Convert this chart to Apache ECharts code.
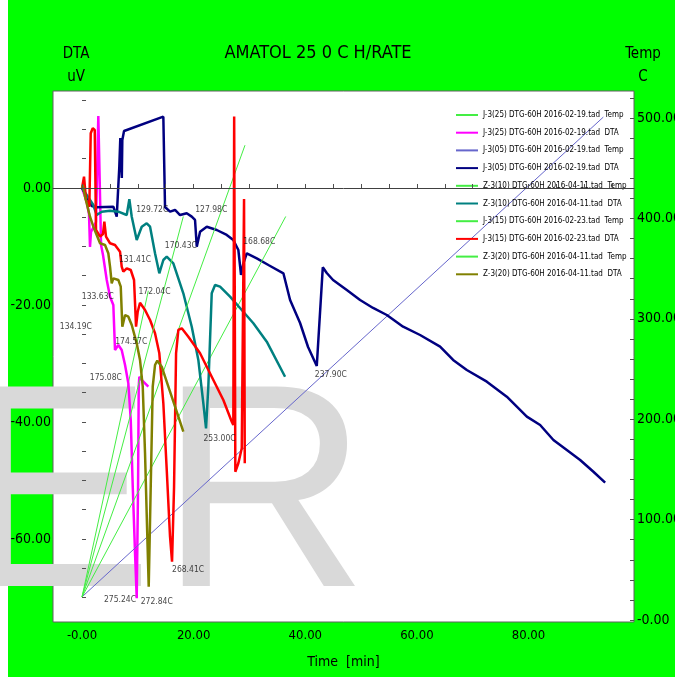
<!DOCTYPE html>
<html>
<head>
<meta charset="utf-8">
<script src="https://cdn.jsdelivr.net/npm/echarts@6/dist/echarts.min.js"></script>
<style>
  html, body { margin: 0; padding: 0; }
  #chart { width: 675px; height: 677px; }
</style>
</head>
<body>
<div id="chart"></div>
<script>
(() => {
  const chart = echarts.init(document.getElementById('chart'));
  const font = "'DejaVu Sans Condensed', 'Liberation Sans', sans-serif";

  // legend / series names
  const seriesNames = [
    'J-3(25) DTG-60H 2016-02-19.tad  Temp',
    'J-3(25) DTG-60H 2016-02-19.tad  DTA',
    'J-3(05) DTG-60H 2016-02-19.tad  Temp',
    'J-3(05) DTG-60H 2016-02-19.tad  DTA',
    'Z-3(10) DTG-60H 2016-04-11.tad  Temp',
    'Z-3(10) DTG-60H 2016-04-11.tad  DTA',
    'J-3(15) DTG-60H 2016-02-23.tad  Temp',
    'J-3(15) DTG-60H 2016-02-23.tad  DTA',
    'Z-3(20) DTG-60H 2016-04-11.tad  Temp',
    'Z-3(20) DTG-60H 2016-04-11.tad  DTA'
  ];
  const seriesColors = ['#44ee44', '#ff00ff', '#6666cc', '#000080', '#44ee44',
    '#008080', '#44ee44', '#ff0000', '#44ee44', '#808000'];

  // temperature lines [time min, temp C]
  const j25Temp = [[0, 23], [11.88, 328]];
  const j05Temp = [[0, 23], [93.4, 501]];
  const z10Temp = [[0, 23], [36.5, 402]];
  const j15Temp = [[0, 23], [29.2, 473]];
  const z20Temp = [[0, 23], [18.15, 402]];

  // DTA curves [time min, uV]
  const j25Dta = [[0, 0], [0.84, -2.34], [1.25, -4.44], [1.43, -10.09], [1.61, -7.52], [2.51, -5.81],
    [2.92, 12.31], [3.23, 12.14], [3.41, -9.74], [3.76, -11.45], [4.43, -15.73], [5.02, -18.58],
    [5.61, -20.0], [5.91, -27.69], [6.51, -26.84], [7.11, -27.69], [7.71, -30.26], [8.3, -33.38],
    [8.73, -39.66], [9.09, -51.06], [9.5, -62.44], [9.8, -70.14], [10.04, -51.06], [10.16, -33.97],
    [10.27, -32.26], [10.99, -33.11], [11.88, -33.97]];

  const j05Dta = [[0, 0], [1.74, -3.08], [2.63, -3.3], [5.61, -3.2], [6.22, -4.9], [6.68, 3.64],
    [6.86, 8.55], [7.08, 8.72], [7.13, 1.71], [7.22, 8.2], [7.53, 9.74], [14.57, 12.19], [14.87, -3.25],
    [15.77, -4.05], [16.67, -3.76], [17.56, -4.62], [18.76, -4.32], [19.66, -4.9], [20.25, -5.47],
    [20.56, -10.03], [21.15, -7.47], [22.35, -6.62], [24.14, -7.18], [25.93, -8.03], [27.11, -8.89],
    [28.01, -10.6], [28.49, -14.87], [28.91, -12.87], [29.52, -11.16], [31.31, -12.02], [33.39, -13.16],
    [36.08, -14.58], [37.28, -19.15], [39.07, -23.08], [40.5, -27.18], [42.06, -30.43], [43.14, -13.56],
    [43.85, -14.53], [44.98, -15.73], [47.44, -17.44], [49.82, -19.15], [52.15, -20.51], [54.61, -21.71],
    [57.53, -23.71], [60.57, -25.13], [64.16, -27.13], [66.49, -29.4], [68.94, -31.11], [72.53, -33.11],
    [76.11, -35.68], [79.7, -39.09], [82.08, -40.51], [84.46, -43.08], [86.86, -44.79], [89.25, -46.5],
    [91.63, -48.5], [93.73, -50.38]];

  const z10Dta = [[0, 0], [2.03, -2.91], [2.63, -4.62], [3.53, -4.05], [5.02, -3.88], [6.51, -4.05],
    [8.01, -4.62], [8.48, -1.93], [8.91, -4.91], [9.8, -8.89], [10.7, -6.62], [11.59, -6.03],
    [12.19, -6.62], [13.08, -11.16], [13.85, -14.58], [14.57, -12.31], [15.18, -11.74], [16.36, -12.87],
    [18.15, -18.0], [19.66, -23.71], [20.84, -29.4], [21.74, -36.8], [22.22, -41.08], [22.63, -33.97],
    [23.24, -18.0], [23.84, -16.58], [24.73, -16.87], [26.52, -18.58], [28.62, -20.85], [30.7, -23.13],
    [33.1, -26.27], [36.38, -32.26]];

  const j15Dta = [[0, 0], [0.36, 1.93], [0.72, -2.05], [1.31, -3.2], [1.56, 9.35], [1.92, 10.21],
    [2.28, 9.91], [2.51, -7.18], [3.23, -8.32], [3.76, -7.86], [4.0, -5.76], [4.3, -8.32], [5.02, -9.45],
    [5.91, -9.74], [6.81, -10.89], [7.11, -13.45], [7.4, -14.31], [8.01, -13.73], [8.73, -14.02],
    [9.32, -15.73], [9.68, -23.71], [9.98, -21.15], [10.39, -19.61], [11.29, -20.85], [12.19, -22.56],
    [13.08, -24.84], [13.85, -28.26], [14.57, -36.8], [15.18, -48.21], [15.77, -59.61], [16.13, -63.88],
    [16.49, -51.06], [16.85, -28.26], [17.26, -24.27], [17.87, -23.98], [19.05, -25.42], [21.15, -28.26],
    [23.24, -32.26], [25.32, -36.24], [26.83, -39.95], [27.11, -40.51], [27.26, 12.2], [27.47, -48.5],
    [28.01, -47.06], [28.62, -44.5], [28.91, -44.5], [29.03, -1.88], [29.16, -47.06]];

  const z20Dta = [[0, 0], [0.15, 0.5], [0.54, -1.49], [1.43, -4.91], [2.03, -6.62], [2.63, -8.03],
    [3.23, -9.45], [4.12, -9.74], [4.71, -11.16], [5.02, -13.45], [5.32, -16.29], [5.61, -15.44],
    [6.51, -15.73], [6.94, -16.87], [7.22, -23.71], [7.71, -21.71], [8.3, -22.0], [8.91, -23.42],
    [9.8, -26.55], [10.39, -29.4], [10.88, -33.97], [11.29, -45.35], [11.7, -59.61], [11.95, -68.15],
    [12.19, -56.75], [12.67, -33.97], [13.08, -30.26], [13.49, -29.52], [14.28, -30.55], [15.47, -33.97],
    [16.67, -37.38], [18.15, -41.66]];

  // peak annotations
  const peakLabels = ['129.72C', '127.98C', '170.43C', '168.68C', '131.41C', '172.04C', '133.63C',
    '134.19C', '174.57C', '175.08C', '237.90C', '253.00C', '268.41C', '275.24C', '272.84C'];
  const peakTimes = [12.58, 23.15, 17.71, 31.75, 9.5, 12.99, 2.83, -1.11, 8.82, 4.27, 44.59, 24.64,
    19.0, 6.81, 13.39];
  const peakValues = [-3.76, -3.76, -9.91, -9.18, -12.19, -17.73, -18.58, -23.71, -26.27, -32.53,
    -31.97, -42.79, -65.3, -70.43, -70.77];

  // axis ticks and labels
  const timeTicks = [0, 5, 10, 15, 20, 25, 30, 35, 40, 45, 50, 55, 60, 65, 70, 75, 80, 85, 90, 95];
  const timeLabels = [0, 20, 40, 60, 80];
  const dtaTicks = [15, 10, 5, 0, -5, -10, -15, -20, -25, -30, -35, -40, -45, -50, -55, -60, -65, -70];
  const dtaLabels = [0, -20, -40, -60];
  const tempTicks = [0, 20, 40, 60, 80, 100, 120, 140, 160, 180, 200, 220, 240, 260, 280, 300,
    320, 340, 360, 380, 400, 420, 440, 460, 480, 500, 520];
  const tempLabels = [0, 100, 200, 300, 400, 500];

  const curves = [j25Temp, j25Dta, j05Temp, j05Dta, z10Temp, z10Dta, j15Temp, j15Dta, z20Temp, z20Dta];

  const series = curves.map((d, i) => {
    const isTemp = i % 2 === 0;
    return {
      name: seriesNames[i],
      type: 'line',
      yAxisIndex: isTemp ? 1 : 0,
      data: d,
      symbol: 'none',
      animation: false,
      lineStyle: { color: seriesColors[i], width: isTemp ? 1 : 2.5 },
      itemStyle: { color: seriesColors[i] },
      z: 3
    };
  });

  // peak temperature texts
  series.push({
    type: 'scatter',
    yAxisIndex: 0,
    symbolSize: 0,
    silent: true,
    animation: false,
    data: peakLabels.map((s, i) => [peakTimes[i], peakValues[i], s]),
    label: {
      show: true,
      position: 'inside',
      formatter: p => p.data[2],
      color: '#111',
      fontSize: 8.5,
      fontFamily: font
    },
    z: 4
  });

  const fmt = (v, neg0) => (v === 0 && neg0 ? '-0.00' : v.toFixed(2));

  const option = {
    backgroundColor: '#00ff00',
    animation: false,
    title: {
      text: 'AMATOL 25 0 C H/RATE',
      left: 313,
      top: 39,
      textAlign: 'center',
      textStyle: { fontSize: 18, fontWeight: 'normal', color: '#000', fontFamily: font }
    },
    graphic: [
      { type: 'rect', left: 0, top: 0, z: 1, shape: { width: 8, height: 677 }, style: { fill: '#fff' } },
      {
        type: 'text', x: -40, y: 506, z: 1, silent: true,
        style: { text: 'E', font: "290px 'Liberation Sans', sans-serif", fill: '#d9d9d9', verticalAlign: 'middle' }
      },
      {
        type: 'text', x: 159, y: 506, z: 1, silent: true,
        style: { text: 'R', font: "290px 'Liberation Sans', sans-serif", fill: '#d9d9d9', verticalAlign: 'middle' }
      }
    ],
    legend: {
      data: seriesNames,
      orient: 'vertical',
      left: 455,
      top: 109,
      padding: 0,
      itemWidth: 22,
      itemHeight: 12,
      itemGap: 5.7,
      itemStyle: { opacity: 0 },
      textStyle: { fontSize: 8, color: '#000', fontFamily: font, lineHeight: 12 }
    },
    grid: {
      left: 53, right: 41, top: 91, bottom: 55,
      outerBoundsMode: 'none',
      show: true, backgroundColor: '#fff', borderColor: '#606060', borderWidth: 1
    },
    xAxis: {
      type: 'value',
      min: -5.2,
      max: 98.9,
      z: 5,
      name: 'Time  [min]',
      nameLocation: 'middle',
      nameGap: 33,
      nameTextStyle: { fontSize: 14, color: '#000', fontFamily: font },
      axisLine: { show: true, lineStyle: { color: '#404040' } },
      axisTick: { show: true, inside: true, length: 4, customValues: timeTicks, lineStyle: { color: '#505050' } },
      axisLabel: { customValues: timeLabels, formatter: v => fmt(v, true), fontSize: 13, color: '#000', margin: 7, fontFamily: font },
      splitLine: { show: false }
    },
    yAxis: [
      {
        type: 'value',
        min: -74.19,
        max: 16.58,
        z: 5,
        name: 'DTA\nuV',
        nameLocation: 'end',
        nameGap: 2,
        nameTextStyle: { fontSize: 15, color: '#000', fontFamily: font, align: 'center', verticalAlign: 'bottom', lineHeight: 23, padding: [0, 12, 0, 0] },
        axisLine: { show: false },
        axisTick: { show: true, inside: true, length: 4, customValues: dtaTicks, lineStyle: { color: '#505050' } },
        axisLabel: { customValues: dtaLabels, formatter: v => fmt(v, false), fontSize: 14, color: '#000', margin: 2, fontFamily: font },
        splitLine: { show: false }
      },
      {
        type: 'value',
        position: 'right',
        min: -2,
        max: 527,
        z: 5,
        name: 'Temp\nC',
        nameLocation: 'end',
        nameGap: 2,
        nameTextStyle: { fontSize: 15, color: '#000', fontFamily: font, align: 'center', verticalAlign: 'bottom', lineHeight: 23, padding: [0, 0, 0, 18] },
        axisLine: { show: false },
        axisTick: { show: true, inside: true, length: 4, customValues: tempTicks, lineStyle: { color: '#505050' } },
        axisLabel: { customValues: tempLabels, formatter: v => fmt(v, true), fontSize: 14, color: '#000', margin: 3, fontFamily: font },
        splitLine: { show: false }
      }
    ],
    series
  };

  chart.setOption(option);
})();
</script>
</body>
</html>
